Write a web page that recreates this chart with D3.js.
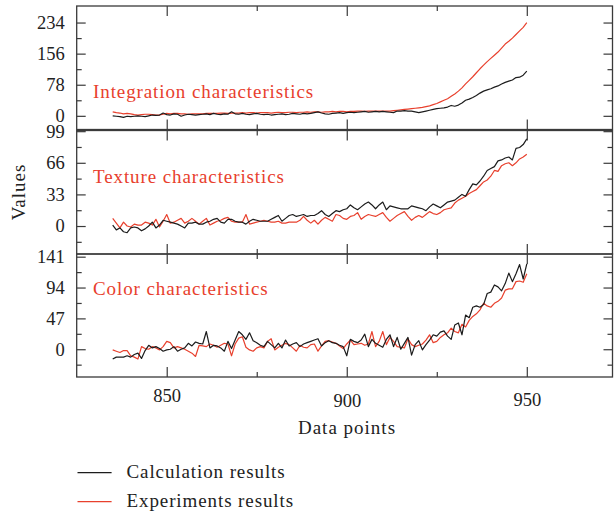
<!DOCTYPE html>
<html><head><meta charset="utf-8">
<script src="https://cdn.jsdelivr.net/npm/d3@7"></script>
<style>
body{margin:0;background:#fff}
svg{display:block}
text{font-family:"Liberation Serif","Times New Roman",serif;}
</style>
</head><body>
<svg id="chart" width="614" height="515"></svg>
<script>
// ---------------- DATA ----------------
const xStart = 835; // first data point; one value per data point

const integrationCalc = [0,-1,-2,-4,-1,-2,-1,0,-1,-2,0,2,1,2,7,3,2,5,4,-1,2,4,3,2,3,4,5,3,6,4,3,5,4,10,5,4,6,4,3,5,6,4,3,4,2,3,4,5,3,4,6,5,4,6,5,6,8,10,7,5,4,6,7,8,6,8,9,8,9,10,11,9,10,11,10,11,10,9,8,12,12,13,12,12,10,8,10,12,14,16,18,19,20,22,26,24,27,32,39,42,46,51,57,62,65,68,72,75,80,84,87,90,96,97,102,112];
const integrationExp = [10,8,7,5,6,5,3,2,3,4,4,3,2,2,4,6,5,6,6,5,5,4,5,5,5,5,6,6,6,6,7,7,6,7,7,7,8,7,8,8,7,8,8,8,7,8,9,8,8,9,9,8,9,9,10,9,10,10,9,10,10,11,10,11,11,10,11,11,12,12,11,12,12,12,12,12,12,12,13,14,15,16,17,18,19,20,21,23,25,28,31,35,39,43,49,55,62,70,80,89,98,108,118,127,136,144,152,160,170,180,187,195,204,213,222,234];

const textureCalc = [1,-4,-2,-6,-7,-2,-1,-2,-5,-3,0,4,-2,1,6,5,4,3,2,0,-2,3,3,4,2,2,4,5,7,8,4,3,7,7,5,4,4,2,5,7,6,5,5,5,7,9,11,5,8,11,12,10,11,12,10,11,11,13,16,12,10,13,16,15,17,18,22,19,17,20,23,25,22,18,22,25,17,21,20,19,18,18,18,21,20,19,18,16,20,23,21,19,22,25,26,27,30,33,31,38,44,43,47,52,58,60,62,68,69,71,72,69,81,82,85,91];
const textureExp = [8,3,-2,4,0,-1,2,1,1,4,3,1,7,-1,5,12,3,4,6,8,3,5,8,5,2,5,8,1,3,5,6,8,9,5,4,4,4,12,2,3,4,5,6,5,4,4,5,3,3,4,4,4,6,10,6,3,6,2,6,9,7,5,12,11,8,7,10,11,14,7,10,12,11,10,12,14,9,5,8,11,13,15,10,6,9,11,9,12,15,13,12,14,17,18,19,24,27,29,31,34,36,38,42,46,48,52,58,57,63,65,66,63,66,70,72,75];

const colorCalc = [-15,-12,-12,-12,-10,-12,-8,-6,-14,-2,6,2,4,1,-3,-1,0,4,-3,0,2,9,5,11,9,8,27,2,6,5,2,-3,12,1,14,27,22,15,25,13,10,6,4,12,7,2,9,2,14,5,8,10,4,8,10,12,14,16,5,10,13,10,9,6,4,-10,15,12,10,14,23,4,15,9,6,3,15,22,4,18,0,9,18,-9,7,13,-1,7,14,22,20,26,28,20,15,37,40,22,52,48,64,66,64,68,85,87,98,95,89,100,116,103,115,129,107,130];
const colorExp = [-1,-3,-5,-2,-2,-10,-12,-15,4,1,0,4,2,-1,4,12,10,2,4,2,0,-3,-6,-11,6,5,4,8,6,3,6,9,8,-10,8,17,19,3,-1,-3,2,4,2,12,16,-1,3,6,9,7,2,-3,6,3,2,7,8,-3,5,12,13,11,9,5,1,8,14,7,8,9,6,8,27,4,12,27,7,18,12,4,3,2,16,7,4,6,8,14,22,10,12,18,22,25,32,27,25,38,34,44,50,54,60,70,66,64,70,73,78,90,92,92,103,104,102,115];

const panelNames = ["Integration characteristics", "Texture characteristics", "Color characteristics"];
const yMajorTicks = [[0, 78, 156, 234], [0, 33, 66, 99], [0, 47, 94, 141]];
const yMinorTicks = [[39, 117, 195], [-16.5, 16.5, 49.5, 82.5], [-23.5, 23.5, 70.5, 117.5]];
const yDomains = [[-34.3, 275.5], [-29.2, 99.7], [-42.3, 145.1]];
const xMajorTicks = [850, 900, 950];
const xMinorTicks = [875, 925];
const xDomain = [825, 973.8];
const legendLabels = ["Calculation results", "Experiments results"];
const xTitle = "Data points";
const yTitle = "Values";

// ---------------- LAYOUT / STYLE ----------------
const RED = "#e8402d", BLACK = "#1c1c1c", AXIS = "#3a3a3a";
const left = 76.7, right = 612.5;
const panelsBox = [{top: 6, bottom: 129.5}, {top: 130.5, bottom: 254}, {top: 254, bottom: 377}];
const labelBaselines = [97.5, 183, 294.5];
const xLabelShift = {850: 0, 900: 5.3, 950: 4};

const seriesByPanel = [
  [integrationCalc, integrationExp],
  [textureCalc, textureExp],
  [colorCalc, colorExp]
];

const svg = d3.select("#chart");
const x = d3.scaleLinear().domain(xDomain).range([left, right]);

function styleAxis(g) {
  g.select(".domain").remove();
  g.selectAll(".tick line").attr("stroke", AXIS).attr("stroke-width", 1.2);
  g.selectAll(".tick text").attr("fill", "#222").style("font-size", "18.5px")
    .style("font-family", '"Liberation Serif","Times New Roman",serif');
}

panelsBox.forEach((p, i) => {
  const y = d3.scaleLinear().domain(yDomains[i]).range([p.bottom, p.top]);
  const g = svg.append("g");

  // lines
  const line = d3.line().x((d, j) => x(xStart + j)).y(d => y(d));
  const [calc, exp] = seriesByPanel[i];
  g.append("path").datum(exp).attr("d", line).attr("fill", "none")
    .attr("stroke", RED).attr("stroke-width", 1.2).attr("stroke-linejoin", "round");
  g.append("path").datum(calc).attr("d", line).attr("fill", "none")
    .attr("stroke", BLACK).attr("stroke-width", 1.2).attr("stroke-linejoin", "round");

  // left axis major with labels
  g.append("g").attr("transform", `translate(${left},0)`)
    .call(d3.axisLeft(y).tickValues(yMajorTicks[i]).tickSizeInner(-9).tickSizeOuter(0).tickPadding(12).tickFormat(d3.format("d")))
    .call(styleAxis);
  g.append("g").attr("transform", `translate(${left},0)`)
    .call(d3.axisLeft(y).tickValues(yMinorTicks[i]).tickSizeInner(-5).tickSizeOuter(0).tickFormat(""))
    .call(styleAxis);
  // right axis
  g.append("g").attr("transform", `translate(${right},0)`)
    .call(d3.axisRight(y).tickValues(yMajorTicks[i]).tickSizeInner(-9).tickSizeOuter(0).tickFormat(""))
    .call(styleAxis);
  g.append("g").attr("transform", `translate(${right},0)`)
    .call(d3.axisRight(y).tickValues(yMinorTicks[i]).tickSizeInner(-5).tickSizeOuter(0).tickFormat(""))
    .call(styleAxis);
  // top axis
  g.append("g").attr("transform", `translate(0,${p.top})`)
    .call(d3.axisTop(x).tickValues(xMajorTicks).tickSizeInner(-10).tickSizeOuter(0).tickFormat(""))
    .call(styleAxis);
  g.append("g").attr("transform", `translate(0,${p.top})`)
    .call(d3.axisTop(x).tickValues(xMinorTicks).tickSizeInner(-5).tickSizeOuter(0).tickFormat(""))
    .call(styleAxis);
  // bottom axis
  const bot = g.append("g").attr("transform", `translate(0,${p.bottom})`)
    .call(d3.axisBottom(x).tickValues(xMajorTicks).tickSizeInner(-10).tickSizeOuter(0).tickPadding(12)
      .tickFormat(i === 2 ? d3.format("d") : ""))
    .call(styleAxis);
  bot.selectAll(".tick text").attr("y", d => 12 + xLabelShift[d]);
  g.append("g").attr("transform", `translate(0,${p.bottom})`)
    .call(d3.axisBottom(x).tickValues(xMinorTicks).tickSizeInner(-5).tickSizeOuter(0).tickFormat(""))
    .call(styleAxis);

  // frame
  g.append("rect").attr("x", left).attr("y", p.top).attr("width", right - left).attr("height", p.bottom - p.top)
    .attr("fill", "none").attr("stroke", AXIS).attr("stroke-width", 1.3);

  // panel label
  g.append("text").attr("x", 93).attr("y", labelBaselines[i]).attr("fill", RED)
    .style("font-size", "19px").style("letter-spacing", "0.9px").text(panelNames[i]);
});

// titles
svg.append("text").attr("x", 347).attr("y", 434).attr("text-anchor", "middle")
  .attr("fill", "#222").style("font-size", "19px").style("letter-spacing", "1px").text(xTitle);
svg.append("text").attr("transform", "translate(25,192) rotate(-90)").attr("text-anchor", "middle")
  .attr("fill", "#222").style("font-size", "19px").style("letter-spacing", "1px").text(yTitle);

// legend
const legendColors = [BLACK, RED];
const legendY = [472.7, 501.7];
legendLabels.forEach((lab, k) => {
  svg.append("line").attr("x1", 77.5).attr("x2", 111.6).attr("y1", legendY[k]).attr("y2", legendY[k])
    .attr("stroke", legendColors[k]).attr("stroke-width", 1.3);
  svg.append("text").attr("x", 126.5).attr("y", legendY[k] + 5.5).attr("fill", "#222")
    .style("font-size", "19px").style("letter-spacing", "0.9px").text(lab);
});
</script>
</body></html>
